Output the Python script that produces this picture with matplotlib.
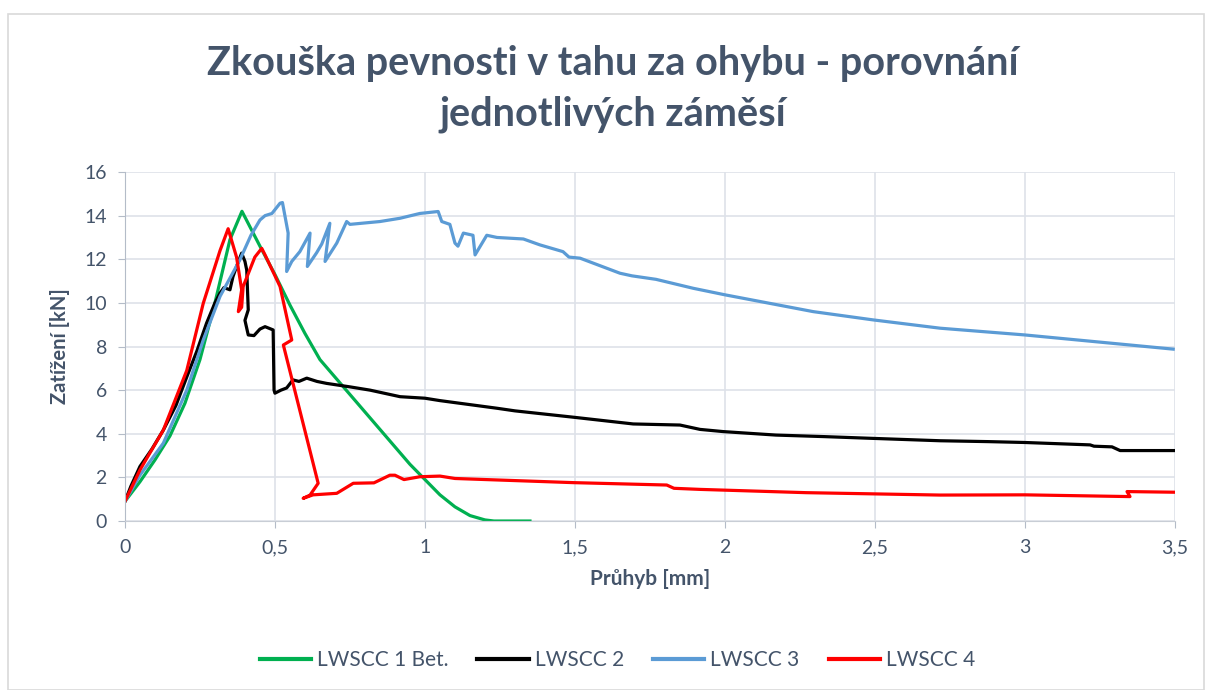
import matplotlib.pyplot as plt
from matplotlib.patches import Rectangle
from matplotlib.ticker import FuncFormatter

# LWSCC 1 Bet.
green_x = [0, 0.05, 0.1, 0.15, 0.2, 0.25, 0.3, 0.35, 0.39, 0.45, 0.5, 0.55, 0.6, 0.65,
           0.7, 0.75, 0.8, 0.85, 0.9, 0.95, 1.0, 1.05, 1.1, 1.15, 1.2, 1.23, 1.35]
green_y = [0.9, 1.8, 2.8, 3.9, 5.4, 7.4, 10.0, 12.9, 14.2, 12.6, 11.3, 9.9, 8.6, 7.4,
           6.6, 5.8, 5.0, 4.2, 3.4, 2.6, 1.9, 1.2, 0.65, 0.25, 0.05, 0, 0]

# LWSCC 2
black_x = [0, 0.02, 0.05, 0.09, 0.128, 0.17, 0.206, 0.24, 0.272, 0.3, 0.317, 0.33, 0.35,
           0.36, 0.372, 0.389, 0.4, 0.406, 0.411, 0.40, 0.411, 0.43, 0.45, 0.467, 0.494,
           0.497, 0.5, 0.52, 0.539, 0.56, 0.58, 0.606, 0.64, 0.672, 0.75, 0.817, 0.917,
           1.0, 1.05, 1.24, 1.3, 1.494, 1.694, 1.85, 1.917, 1.994, 2.17, 2.33, 2.49, 2.717,
           2.878, 3.0, 3.217, 3.23, 3.29, 3.317, 3.5]
black_y = [0.9, 1.6, 2.5, 3.3, 4.17, 5.3, 6.6, 7.8, 9.07, 10.0, 10.45, 10.7, 10.6,
           11.2, 11.67, 12.28, 11.9, 11.5, 9.68, 9.2, 8.53, 8.5, 8.8, 8.91, 8.76,
           6.0, 5.86, 6.0, 6.1, 6.47, 6.4, 6.55, 6.4, 6.31, 6.15, 6.0, 5.7,
           5.63, 5.52, 5.17, 5.05, 4.76, 4.45, 4.4, 4.2, 4.1, 3.94, 3.87, 3.79, 3.68,
           3.64, 3.6, 3.49, 3.43, 3.4, 3.23, 3.23]

# LWSCC 3
blue_x = [0, 0.05, 0.128, 0.206, 0.261, 0.317, 0.383, 0.42, 0.45, 0.467, 0.49, 0.517, 0.525,
          0.544, 0.539, 0.556, 0.583, 0.617, 0.608, 0.639, 0.656, 0.683, 0.667, 0.706,
          0.739, 0.75, 0.85, 0.917, 0.983, 1.044, 1.056, 1.083, 1.1, 1.11, 1.128, 1.16,
          1.167, 1.206, 1.24, 1.328, 1.383, 1.46, 1.48, 1.517, 1.65, 1.69, 1.77, 1.894,
          2.0, 2.294, 2.494, 2.717, 3.0, 3.494]
blue_y = [0.9, 2.1, 3.57, 6.0, 8.3, 10.3, 11.97, 13.1, 13.8, 14.0, 14.1, 14.57, 14.6,
          13.2, 11.44, 11.9, 12.35, 13.2, 11.67, 12.3, 12.7, 13.65, 11.9, 12.74,
          13.73, 13.6, 13.73, 13.88, 14.1, 14.19, 13.73, 13.6, 12.74, 12.6, 13.2, 13.1,
          12.2, 13.1, 13.0, 12.93, 12.66, 12.35, 12.1, 12.05, 11.36, 11.24, 11.08, 10.67,
          10.37, 9.6, 9.22, 8.84, 8.53, 7.88]

# LWSCC 4
red_x = [0, 0.05, 0.128, 0.206, 0.261, 0.317, 0.344, 0.372, 0.389, 0.378, 0.389, 0.394,
         0.433, 0.456, 0.467, 0.517, 0.556, 0.528, 0.644, 0.617, 0.594, 0.627, 0.706,
         0.761, 0.83, 0.883, 0.9, 0.93, 0.983, 1.05, 1.1, 1.494, 1.806, 1.83, 1.917,
         2.27, 2.717, 3.0, 3.35, 3.34, 3.5]
red_y = [0.9, 2.34, 4.17, 6.9, 9.98, 12.4, 13.4, 12.1, 10.6, 9.6, 9.8, 10.75,
         12.1, 12.5, 12.2, 10.75, 8.3, 8.07, 1.73, 1.19, 1.04, 1.2, 1.27,
         1.73, 1.75, 2.1, 2.1, 1.9, 2.03, 2.06, 1.95, 1.76, 1.65, 1.5, 1.45,
         1.3, 1.19, 1.2, 1.12, 1.35, 1.32]

series = [
    ("LWSCC 1 Bet.", green_x, green_y, "#00B050"),
    ("LWSCC 2", black_x, black_y, "#000000"),
    ("LWSCC 3", blue_x, blue_y, "#5B9BD5"),
    ("LWSCC 4", red_x, red_y, "#FF0000"),
]

x_ticks = [0, 0.5, 1, 1.5, 2, 2.5, 3, 3.5]
y_ticks = [0, 2, 4, 6, 8, 10, 12, 14, 16]

text_color = "#44546A"
grid_color = "#DEE2E9"

plt.rcParams["font.family"] = ["Lato", "DejaVu Sans"]

fig = plt.figure(figsize=(12.06, 6.9), dpi=100)
ax = fig.add_axes([0.1036, 0.2449, 0.8707, 0.5058])

for name, xs, ys, color in series:
    ax.plot(xs, ys, color=color, lw=2.3, label=name, solid_joinstyle="round")

ax.set_xlim(0, 3.5)
ax.set_ylim(0, 16)
ax.set_xticks(x_ticks)
ax.set_yticks(y_ticks)
ax.xaxis.set_major_formatter(FuncFormatter(lambda v, p: f"{v:g}".replace(".", ",")))
ax.grid(True, color=grid_color, lw=1.2)
ax.set_axisbelow(True)

for side in ["top", "right"]:
    ax.spines[side].set_visible(False)
ax.spines["left"].set_color("#B4BCC8")
ax.spines["bottom"].set_color("#C8CDD5")
ax.spines["bottom"].set_linestyle((0, (1, 1)))
ax.tick_params(axis="both", colors="#B4BCC8", labelcolor=text_color,
               labelsize=14, length=5, pad=8)

ax.set_xlabel("Průhyb [mm]", fontsize=15, fontweight="bold", color=text_color, labelpad=9)
ax.set_ylabel("Zatížení [kN]", fontsize=14.5, fontweight="bold", color=text_color, labelpad=10)

fig.suptitle("Zkouška pevnosti v tahu za ohybu - porovnání\njednotlivých záměsí",
             x=0.508, y=0.935, fontsize=28.5, fontweight="bold", color=text_color,
             linespacing=1.45)

leg = fig.legend(loc="center", bbox_to_anchor=(0.512, 0.0435), ncol=4, frameon=False,
                 fontsize=15, handlelength=2.45, columnspacing=1.4, handletextpad=0.3)
for t in leg.get_texts():
    t.set_color(text_color)
for h in leg.get_lines():
    h.set_linewidth(3)

fig.patches.append(Rectangle((8 / 1206, 0), 1196 / 1206, 1 - 14 / 690, transform=fig.transFigure,
                             fill=False, edgecolor="#D9D9D9", lw=1.2))

fig.savefig("out.png", dpi=100)
